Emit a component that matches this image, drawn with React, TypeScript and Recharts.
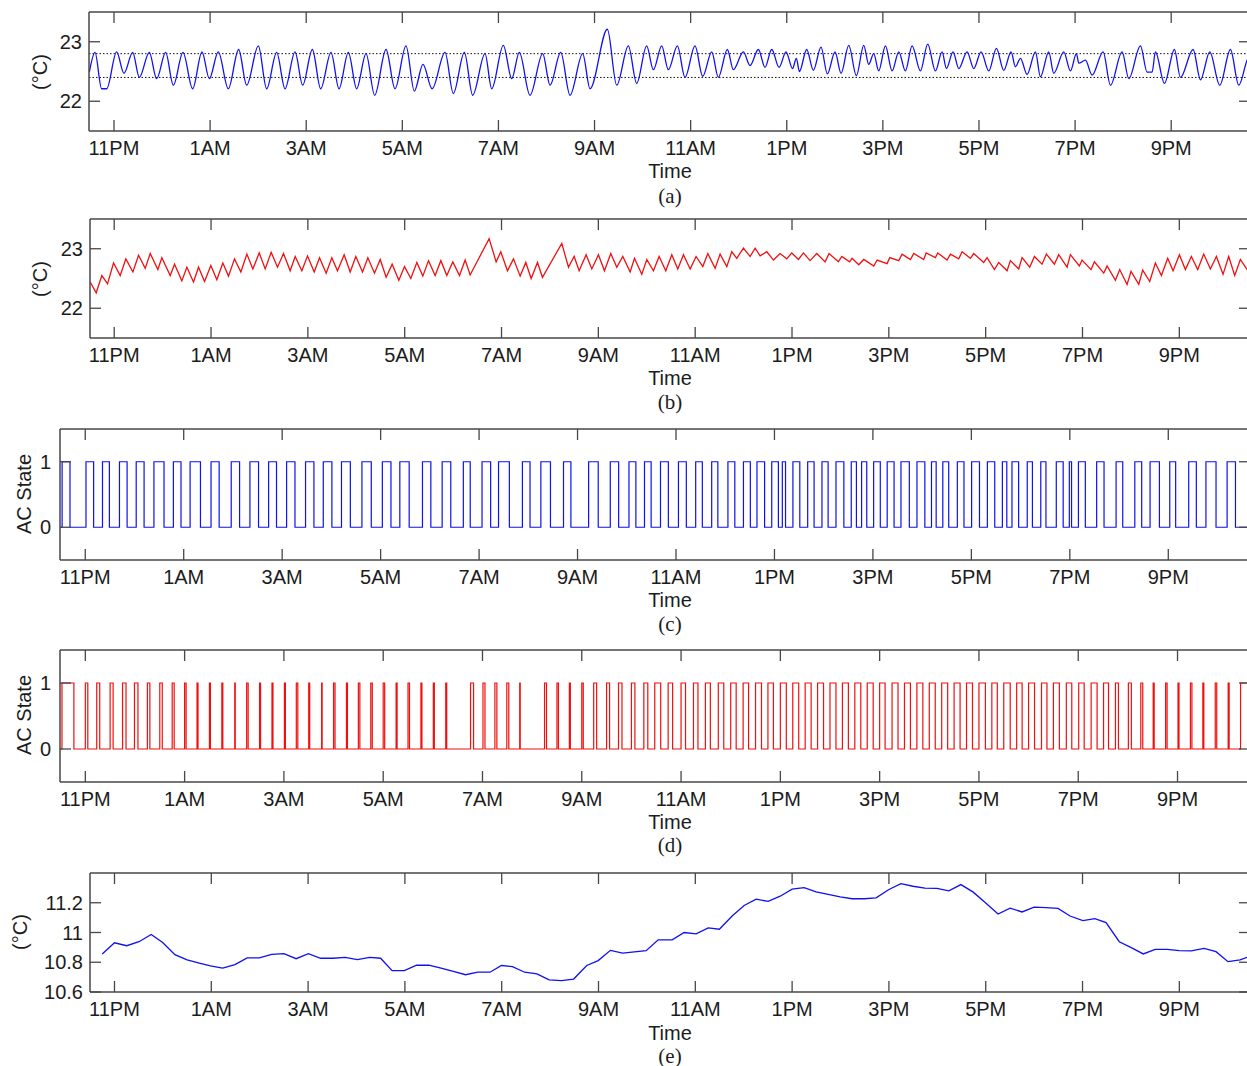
import React from 'react';
import { LineChart, Line, XAxis, YAxis, ReferenceLine } from 'recharts';

// Hours after 10 PM (11PM = 1, 1AM = 3, ...)
const hourTicks = [1, 3, 5, 7, 9, 11, 13, 15, 17, 19, 21, 23];
const hourLabels = ['11PM', '1AM', '3AM', '5AM', '7AM', '9AM', '11AM', '1PM', '3PM', '5PM', '7PM', '9PM'];

// (a) room temperature, baseline controller [hour, °C]
const roomTempA: [number, number][] = [
  [0.487, 22.49], [0.605, 22.82], [0.743, 22.21], [0.847, 22.21], [1.055, 22.83], [1.208, 22.47], [1.389, 22.82], [1.527, 22.4],
  [1.735, 22.82], [1.888, 22.38], [2.075, 22.82], [2.235, 22.27], [2.436, 22.82], [2.637, 22.21], [2.831, 22.83], [2.984, 22.38],
  [3.171, 22.83], [3.379, 22.21], [3.594, 22.87], [3.761, 22.27], [4.004, 22.93], [4.177, 22.21], [4.385, 22.82], [4.559, 22.21],
  [4.767, 22.83], [4.926, 22.27], [5.128, 22.87], [5.301, 22.21], [5.516, 22.82], [5.683, 22.21], [5.877, 22.82], [6.05, 22.21],
  [6.245, 22.8], [6.425, 22.1], [6.661, 22.87], [6.848, 22.21], [7.077, 22.93], [7.25, 22.17], [7.43, 22.62], [7.62, 22.21],
  [7.888, 22.82], [8.062, 22.13], [8.291, 22.82], [8.464, 22.1], [8.721, 22.8], [8.86, 22.21], [9.102, 22.94], [9.276, 22.38],
  [9.435, 22.82], [9.657, 22.1], [9.921, 22.8], [10.074, 22.27], [10.296, 22.82], [10.49, 22.1], [10.753, 22.8], [10.906, 22.21],
  [11.267, 23.21], [11.461, 22.27], [11.704, 22.93], [11.877, 22.3], [12.085, 22.93], [12.224, 22.53], [12.398, 22.93], [12.536, 22.53],
  [12.724, 22.93], [12.883, 22.4], [13.091, 22.93], [13.251, 22.42], [13.438, 22.83], [13.577, 22.4], [13.764, 22.87], [13.889, 22.53],
  [14.097, 22.83], [14.236, 22.6], [14.409, 22.87], [14.548, 22.57], [14.687, 22.87], [14.84, 22.57], [14.985, 22.83], [15.12, 22.55],
  [15.2, 22.72], [15.263, 22.5], [15.415, 22.87], [15.554, 22.52], [15.713, 22.91], [15.845, 22.46], [16.005, 22.83], [16.13, 22.47],
  [16.29, 22.94], [16.449, 22.43], [16.602, 22.94], [16.706, 22.62], [16.81, 22.8], [16.914, 22.51], [17.053, 22.93], [17.192, 22.51],
  [17.331, 22.83], [17.469, 22.51], [17.608, 22.93], [17.781, 22.51], [17.934, 22.96], [18.094, 22.51], [18.232, 22.83], [18.323, 22.55],
  [18.461, 22.83], [18.579, 22.55], [18.753, 22.83], [18.891, 22.55], [19.044, 22.83], [19.204, 22.51], [19.363, 22.89], [19.516, 22.52],
  [19.668, 22.83], [19.759, 22.58], [19.863, 22.72], [20.001, 22.45], [20.175, 22.83], [20.279, 22.41], [20.452, 22.83], [20.556, 22.47],
  [20.764, 22.83], [20.903, 22.51], [21.028, 22.8], [21.077, 22.64], [21.215, 22.69], [21.354, 22.44], [21.583, 22.83], [21.736, 22.27],
  [21.979, 22.83], [22.117, 22.38], [22.36, 22.93], [22.499, 22.49], [22.603, 22.49], [22.672, 22.83], [22.86, 22.3], [23.068, 22.87],
  [23.192, 22.4], [23.456, 22.87], [23.609, 22.36], [23.803, 22.83], [24.011, 22.27], [24.233, 22.87], [24.406, 22.27], [24.58, 22.69],
  [24.64, 22.78],
];
const bandUpper = 22.8;
const bandLower = 22.4;

// (b) room temperature, proposed controller [hour, °C]
const roomTempB: [number, number][] = [
  [0.504, 22.44], [0.628, 22.26], [0.745, 22.55], [0.862, 22.41], [0.986, 22.76], [1.124, 22.55], [1.241, 22.83], [1.386, 22.61],
  [1.503, 22.89], [1.64, 22.67], [1.744, 22.92], [1.902, 22.65], [1.984, 22.85], [2.157, 22.55], [2.246, 22.74], [2.397, 22.46],
  [2.501, 22.69], [2.638, 22.44], [2.742, 22.69], [2.866, 22.45], [2.996, 22.72], [3.12, 22.48], [3.244, 22.76], [3.361, 22.54],
  [3.485, 22.83], [3.616, 22.61], [3.74, 22.91], [3.864, 22.66], [3.995, 22.93], [4.119, 22.66], [4.242, 22.94], [4.373, 22.69],
  [4.497, 22.92], [4.635, 22.63], [4.738, 22.87], [4.876, 22.63], [4.993, 22.88], [5.131, 22.61], [5.241, 22.85], [5.378, 22.59],
  [5.495, 22.85], [5.612, 22.63], [5.75, 22.9], [5.874, 22.61], [5.991, 22.87], [6.129, 22.61], [6.239, 22.85], [6.377, 22.59],
  [6.494, 22.82], [6.617, 22.52], [6.741, 22.74], [6.879, 22.47], [6.996, 22.7], [7.127, 22.5], [7.251, 22.77], [7.375, 22.54],
  [7.492, 22.8], [7.629, 22.55], [7.747, 22.8], [7.87, 22.55], [7.994, 22.78], [8.132, 22.55], [8.249, 22.81], [8.352, 22.56],
  [8.744, 23.17], [8.889, 22.78], [8.985, 22.95], [9.123, 22.63], [9.247, 22.83], [9.385, 22.54], [9.502, 22.77], [9.612, 22.5],
  [9.743, 22.77], [9.846, 22.52], [10.245, 23.09], [10.383, 22.69], [10.5, 22.87], [10.603, 22.63], [10.748, 22.9], [10.865, 22.66],
  [11.002, 22.9], [11.126, 22.63], [11.257, 22.92], [11.381, 22.69], [11.505, 22.87], [11.657, 22.61], [11.746, 22.84], [11.897, 22.57],
  [12.001, 22.82], [12.138, 22.63], [12.255, 22.87], [12.393, 22.63], [12.517, 22.9], [12.641, 22.66], [12.758, 22.9], [12.896, 22.66],
  [13.019, 22.87], [13.157, 22.7], [13.261, 22.92], [13.412, 22.67], [13.515, 22.91], [13.653, 22.7], [13.756, 22.95], [13.859, 22.84],
  [13.997, 23.01], [14.135, 22.87], [14.238, 23.01], [14.341, 22.88], [14.479, 22.95], [14.617, 22.81], [14.754, 22.92], [14.892, 22.83],
  [14.995, 22.93], [15.133, 22.82], [15.236, 22.93], [15.374, 22.8], [15.511, 22.92], [15.684, 22.78], [15.766, 22.92], [15.959, 22.78],
  [16.028, 22.87], [16.19, 22.78], [16.241, 22.84], [16.379, 22.73], [16.482, 22.82], [16.689, 22.71], [16.758, 22.81], [16.964, 22.75],
  [17.019, 22.85], [17.205, 22.8], [17.274, 22.91], [17.446, 22.82], [17.515, 22.92], [17.721, 22.82], [17.77, 22.93], [17.962, 22.85],
  [18.01, 22.93], [18.203, 22.81], [18.272, 22.91], [18.444, 22.83], [18.513, 22.95], [18.685, 22.84], [18.754, 22.92], [18.96, 22.77],
  [19.029, 22.85], [19.181, 22.65], [19.27, 22.77], [19.442, 22.63], [19.511, 22.8], [19.683, 22.66], [19.752, 22.85], [19.911, 22.69],
  [20.007, 22.87], [20.165, 22.74], [20.255, 22.91], [20.42, 22.74], [20.509, 22.9], [20.682, 22.69], [20.75, 22.9], [20.936, 22.71],
  [20.991, 22.81], [21.177, 22.65], [21.246, 22.78], [21.439, 22.59], [21.508, 22.71], [21.68, 22.47], [21.769, 22.65], [21.921, 22.4],
  [22.003, 22.62], [22.162, 22.4], [22.244, 22.64], [22.389, 22.45], [22.506, 22.76], [22.63, 22.55], [22.76, 22.84], [22.871, 22.63],
  [23.002, 22.9], [23.125, 22.65], [23.249, 22.87], [23.38, 22.65], [23.504, 22.91], [23.642, 22.66], [23.766, 22.87], [23.903, 22.57],
  [24.02, 22.87], [24.144, 22.55], [24.261, 22.82], [24.399, 22.65], [24.46, 22.7],
];

// (c) AC switching, baseline controller [hour]
const acOnC = [
  0.53, 1.015, 1.35, 1.695, 2.035, 2.395, 2.79, 3.13, 3.555, 3.965, 4.345, 4.725, 5.09, 5.475, 5.835, 6.205, 6.62, 7.035, 7.39, 7.85,
  8.25, 8.68, 9.06, 9.395, 9.88, 10.255, 10.715, 11.225, 11.665, 12.045, 12.36, 12.685, 13.05, 13.4, 13.725, 14.055, 14.37, 14.645, 14.945, 15.16,
  15.375, 15.675, 15.965, 16.25, 16.56, 16.77, 17.015, 17.29, 17.57, 17.895, 18.19, 18.42, 18.715, 19.005, 19.325, 19.63, 19.825, 20.135, 20.41, 20.725,
  20.99, 21.175, 21.545, 21.94, 22.32, 22.63, 23.03, 23.415, 23.765, 24.195,
];
const acOffC = [
  0.69, 1.17, 1.49, 1.85, 2.195, 2.6, 2.945, 3.34, 3.72, 4.135, 4.52, 4.885, 5.26, 5.645, 6.01, 6.385, 6.81, 7.21, 7.58, 8.02,
  8.425, 8.82, 9.235, 9.615, 10.035, 10.45, 10.865, 11.42, 11.835, 12.185, 12.495, 12.845, 13.21, 13.535, 13.85, 14.195, 14.51, 14.8, 15.08, 15.225,
  15.515, 15.805, 16.09, 16.41, 16.665, 16.875, 17.15, 17.43, 17.74, 18.055, 18.285, 18.54, 18.85, 19.165, 19.475, 19.72, 19.96, 20.24, 20.515, 20.865,
  21.035, 21.315, 21.695, 22.075, 22.46, 22.82, 23.15, 23.57, 23.97, 24.365,
];

// (d) AC switching, proposed controller [hour]
const acOnD = [
  0.53, 1.0, 1.23, 1.5, 1.75, 1.99, 2.25, 2.5, 2.75, 3.0, 3.25, 3.5, 3.75, 4.01, 4.25, 4.51, 4.76, 5.01, 5.25, 5.5,
  5.76, 6.0, 6.26, 6.5, 6.75, 7.0, 7.26, 7.5, 7.76, 8.01, 8.26, 8.76, 9.01, 9.25, 9.49, 9.75, 10.25, 10.5, 10.75, 11.0,
  11.24, 11.5, 11.74, 12.0, 12.25, 12.47, 12.74, 13.0, 13.25, 13.49, 13.75, 14.0, 14.25, 14.5, 14.75, 15.0, 15.25, 15.5, 15.75, 16.0,
  16.25, 16.5, 16.75, 17.0, 17.25, 17.5, 17.75, 18.0, 18.25, 18.5, 18.75, 19.0, 19.26, 19.5, 19.76, 20.0, 20.26, 20.5, 20.76, 21.01,
  21.26, 21.51, 21.75, 22.01, 22.26, 22.51, 22.76, 23.01, 23.26, 23.51, 23.76, 24.02, 24.27,
];
const acOffD = [
  0.77, 1.05, 1.29, 1.56, 1.82, 2.06, 2.3, 2.55, 2.79, 3.03, 3.27, 3.52, 3.77, 4.02, 4.28, 4.53, 4.78, 5.03, 5.28, 5.52,
  5.77, 6.03, 6.28, 6.53, 6.78, 7.03, 7.28, 7.53, 7.78, 8.03, 8.28, 8.82, 9.05, 9.29, 9.53, 9.76, 10.29, 10.53, 10.77, 11.03,
  11.3, 11.56, 11.81, 12.07, 12.33, 12.59, 12.83, 13.09, 13.34, 13.59, 13.86, 14.11, 14.36, 14.62, 14.86, 15.12, 15.37, 15.62, 15.87, 16.12,
  16.37, 16.62, 16.87, 17.11, 17.37, 17.62, 17.87, 18.12, 18.37, 18.62, 18.87, 19.13, 19.37, 19.63, 19.87, 20.12, 20.37, 20.62, 20.87, 21.12,
  21.38, 21.61, 21.81, 22.07, 22.3, 22.53, 22.79, 23.03, 23.29, 23.53, 23.79, 24.04,
];

// (e) outdoor / other temperature [hour, °C]
const tempE: [number, number][] = [
  [0.747, 10.856], [1.0, 10.931], [1.253, 10.911], [1.506, 10.938], [1.759, 10.987], [1.995, 10.933], [2.248, 10.851], [2.501, 10.816],
  [2.771, 10.793], [2.982, 10.776], [3.235, 10.76], [3.488, 10.784], [3.741, 10.829], [3.994, 10.829], [4.247, 10.853], [4.5, 10.858],
  [4.753, 10.824], [5.006, 10.858], [5.259, 10.827], [5.512, 10.827], [5.765, 10.833], [6.018, 10.818], [6.271, 10.833], [6.498, 10.827],
  [6.735, 10.744], [6.988, 10.744], [7.241, 10.78], [7.494, 10.78], [7.747, 10.76], [8.0, 10.738], [8.253, 10.716], [8.506, 10.733],
  [8.759, 10.733], [8.995, 10.778], [9.222, 10.771], [9.475, 10.733], [9.728, 10.722], [9.981, 10.682], [10.234, 10.676], [10.487, 10.687],
  [10.757, 10.778], [10.993, 10.811], [11.246, 10.88], [11.499, 10.862], [11.985, 10.878], [12.233, 10.951], [12.522, 10.951], [12.77, 11.0],
  [13.018, 10.991], [13.266, 11.031], [13.497, 11.022], [13.761, 11.111], [14.009, 11.182], [14.257, 11.224], [14.505, 11.209], [14.753, 11.244],
  [15.0, 11.291], [15.248, 11.302], [15.496, 11.273], [15.744, 11.256], [15.992, 11.24], [16.24, 11.227], [16.488, 11.227], [16.735, 11.233],
  [17.0, 11.289], [17.248, 11.329], [17.496, 11.311], [17.744, 11.298], [17.991, 11.296], [18.239, 11.28], [18.487, 11.322], [18.735, 11.273],
  [18.983, 11.204], [19.255, 11.124], [19.503, 11.164], [19.751, 11.138], [19.999, 11.171], [20.247, 11.167], [20.494, 11.162], [20.742, 11.111],
  [21.007, 11.08], [21.255, 11.093], [21.486, 11.067], [21.759, 10.938], [22.007, 10.898], [22.254, 10.856], [22.502, 10.887], [22.75, 10.887],
  [22.998, 10.878], [23.246, 10.876], [23.51, 10.893], [23.758, 10.871], [24.006, 10.804], [24.254, 10.816], [24.4, 10.833], [24.46, 10.84],
];

const tempTicks = [22, 23];
const stateTicks = [0, 1];
const outdoorTicks = [10.6, 10.8, 11, 11.2];

const SANS = '"Liberation Sans", Arial, Helvetica, sans-serif';
const SERIF = '"Liberation Serif", "Times New Roman", serif';
const AXIS = '#474747';
const TEXT = '#1c1c1c';
const BLUE = '#1010f0';
const RED = '#f01010';
const RIGHT = 1250;
const TICK_LEN = 11;

const toRows = (pairs: [number, number][]) => pairs.map(([t, v]) => ({ t, v }));

function stepRows(on: number[], off: number[], start: number, end: number) {
  const rows: { t: number; v: number }[] = [{ t: start, v: 0 }];
  on.forEach((t, i) => {
    rows.push({ t, v: 1 });
    if (i < off.length) rows.push({ t: off[i], v: 0 });
  });
  rows.push({ t: end, v: rows[rows.length - 1].v });
  return rows;
}

type PanelProps = {
  plotTop: number;
  plotLeft: number;
  plotH: number;
  xDomain: [number, number];
  yDomain: [number, number];
  yTicks: number[];
  yFmt: (v: number) => string;
  yLabelGap: number;
  children: React.ReactNode;
};

function Panel({ plotTop, plotLeft, plotH, xDomain, yDomain, yTicks, yFmt, yLabelGap, children }: PanelProps) {
  const pad = 4;
  const W = 1262;
  const plotW = RIGHT - plotLeft;
  const H = pad + plotH + 40;

  const XTick = (props: any) => {
    const { x, y, payload } = props;
    const i = hourTicks.indexOf(payload.value);
    return (
      <g>
        <line x1={x} x2={x} y1={y} y2={y - TICK_LEN} stroke={AXIS} strokeWidth={1.3} />
        <line x1={x} x2={x} y1={y - plotH} y2={y - plotH + TICK_LEN} stroke={AXIS} strokeWidth={1.3} />
        <text x={x} y={y + 24} textAnchor="middle" fontFamily={SANS} fontSize={20} fill={TEXT}>
          {hourLabels[i]}
        </text>
      </g>
    );
  };

  const YTick = (props: any) => {
    const { x, y, payload } = props;
    return (
      <g>
        <line x1={x} x2={x + TICK_LEN} y1={y} y2={y} stroke={AXIS} strokeWidth={1.3} />
        <line x1={x + plotW - TICK_LEN} x2={x + plotW} y1={y} y2={y} stroke={AXIS} strokeWidth={1.3} />
        <text x={x - yLabelGap} y={y + 7} textAnchor="end" fontFamily={SANS} fontSize={20} fill={TEXT}>
          {yFmt(payload.value)}
        </text>
      </g>
    );
  };

  return (
    <div style={{ position: 'absolute', left: 0, top: plotTop - pad }}>
      <LineChart width={W} height={H} margin={{ top: pad, right: W - RIGHT, bottom: 0, left: 0 }}>
        <XAxis
          dataKey="t"
          type="number"
          domain={xDomain}
          allowDataOverflow
          ticks={hourTicks}
          interval={0}
          tickSize={0}
          tickMargin={0}
          tickLine={false}
          tick={XTick}
          height={40}
          axisLine={{ stroke: AXIS, strokeWidth: 1.5 }}
        />
        <YAxis
          type="number"
          domain={yDomain}
          allowDataOverflow
          ticks={yTicks}
          interval={0}
          width={plotLeft}
          tickSize={0}
          tickMargin={0}
          tickLine={false}
          tick={YTick}
          axisLine={{ stroke: AXIS, strokeWidth: 1.5 }}
        />
        <ReferenceLine y={yDomain[1]} stroke={AXIS} strokeWidth={1.5} />
        <ReferenceLine x={xDomain[1]} stroke={AXIS} strokeWidth={1.5} />
        {children}
      </LineChart>
    </div>
  );
}

const fmtPlain = (v: number) => String(v);
const fmtOutdoor = (v: number) => (Number.isInteger(v) ? String(v) : v.toFixed(1));

const centered = (x: number, y: number, extra: React.CSSProperties = {}): React.CSSProperties => ({
  position: 'absolute',
  left: x,
  top: y,
  transform: 'translate(-50%, -50%)',
  whiteSpace: 'nowrap',
  color: TEXT,
  fontFamily: SANS,
  fontSize: 20,
  lineHeight: 1,
  ...extra,
});

const rotated = (x: number, y: number): React.CSSProperties =>
  centered(x, y, { transform: 'translate(-50%, -50%) rotate(-90deg)' });

export default function App() {
  const dataA = toRows(roomTempA);
  const dataB = toRows(roomTempB);
  const dataC = stepRows(acOnC, acOffC, 0.487, 24.66);
  const dataD = stepRows(acOnD, acOffD, 0.49, 24.46);
  const dataE = toRows(tempE);

  return (
    <div style={{ position: 'absolute', left: 0, top: 0, width: 1247, height: 1066, overflow: 'hidden', background: '#fff' }}>
      <Panel plotTop={12} plotLeft={89} plotH={119} xDomain={[0.48, 24.64]} yDomain={[21.5, 23.5]} yTicks={tempTicks} yFmt={fmtPlain} yLabelGap={7}>
        <ReferenceLine y={bandUpper} stroke="#111" strokeWidth={1} strokeDasharray="1.5 2" />
        <ReferenceLine y={bandLower} stroke="#111" strokeWidth={1} strokeDasharray="1.5 2" />
        <Line data={dataA} dataKey="v" type="monotone" stroke={BLUE} strokeWidth={1.3} dot={false} activeDot={false} isAnimationActive={false} />
      </Panel>
      <Panel plotTop={219} plotLeft={90} plotH={119} xDomain={[0.5, 24.46]} yDomain={[21.5, 23.5]} yTicks={tempTicks} yFmt={fmtPlain} yLabelGap={7}>
        <Line data={dataB} dataKey="v" type="linear" stroke={RED} strokeWidth={1.3} dot={false} activeDot={false} isAnimationActive={false} />
      </Panel>
      <Panel plotTop={429} plotLeft={60} plotH={131} xDomain={[0.487, 24.66]} yDomain={[-0.5, 1.5]} yTicks={stateTicks} yFmt={fmtPlain} yLabelGap={9}>
        <Line data={dataC} dataKey="v" type="stepAfter" stroke={BLUE} strokeWidth={1.2} dot={false} activeDot={false} isAnimationActive={false} />
      </Panel>
      <Panel plotTop={650} plotLeft={60} plotH={132} xDomain={[0.49, 24.46]} yDomain={[-0.5, 1.5]} yTicks={stateTicks} yFmt={fmtPlain} yLabelGap={9}>
        <Line data={dataD} dataKey="v" type="stepAfter" stroke={RED} strokeWidth={1.2} dot={false} activeDot={false} isAnimationActive={false} />
      </Panel>
      <Panel plotTop={873} plotLeft={90} plotH={119} xDomain={[0.494, 24.46]} yDomain={[10.6, 11.4]} yTicks={outdoorTicks} yFmt={fmtOutdoor} yLabelGap={7}>
        <Line data={dataE} dataKey="v" type="linear" stroke={BLUE} strokeWidth={1.3} dot={false} activeDot={false} isAnimationActive={false} />
      </Panel>

      <div style={rotated(40, 72)}>(°C)</div>
      <div style={rotated(40, 279)}>(°C)</div>
      <div style={rotated(24, 494)}>AC State</div>
      <div style={rotated(24, 715)}>AC State</div>
      <div style={rotated(20, 932)}>(°C)</div>

      <div style={centered(670, 171)}>Time</div>
      <div style={centered(670, 378)}>Time</div>
      <div style={centered(670, 600)}>Time</div>
      <div style={centered(670, 822)}>Time</div>
      <div style={centered(670, 1033)}>Time</div>

      <div style={centered(670, 196, { fontFamily: SERIF, fontSize: 21 })}>(a)</div>
      <div style={centered(670, 402, { fontFamily: SERIF, fontSize: 21 })}>(b)</div>
      <div style={centered(670, 624, { fontFamily: SERIF, fontSize: 21 })}>(c)</div>
      <div style={centered(670, 845, { fontFamily: SERIF, fontSize: 21 })}>(d)</div>
      <div style={centered(670, 1056, { fontFamily: SERIF, fontSize: 21 })}>(e)</div>
    </div>
  );
}
